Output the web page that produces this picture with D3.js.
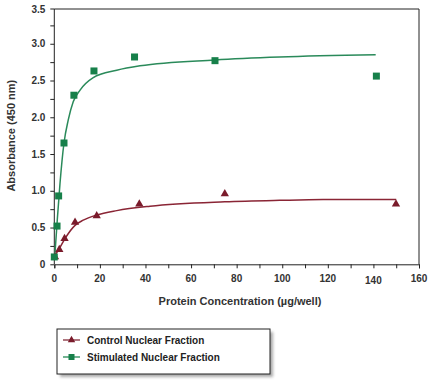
<!DOCTYPE html>
<html>
<head>
<meta charset="utf-8">
<script src="https://cdn.jsdelivr.net/npm/d3@7"></script>
<style>
  body { margin: 0; background: #fff; }
  svg { display: block; font-family: "Liberation Sans", Arial, sans-serif; font-weight: bold; }
</style>
</head>
<body>
<div class="container"></div>
<script>
// measured points
const controlX = [0.3, 2.2, 4.5, 9.1, 18.6, 37.3, 74.8, 149.9];
const controlY = [0.10, 0.20, 0.35, 0.57, 0.66, 0.82, 0.96, 0.82];
const stimX = [0, 1.2, 1.9, 4.25, 8.6, 17.4, 35.2, 70.5, 141.3];
const stimY = [0.10, 0.52, 0.93, 1.65, 2.30, 2.63, 2.82, 2.77, 2.56];

// fitted curves
const controlFitX = [0.3, 2.5, 4.7, 9.1, 12.7, 18.6, 27.4, 42, 74.8, 98.9, 117.9, 150];
const controlFitY = [0.12, 0.23, 0.35, 0.53, 0.60, 0.67, 0.73, 0.79, 0.85, 0.87, 0.88, 0.88];
const stimFitX = [0.3, 1.3, 2.5, 4.25, 6.1, 8.3, 11.3, 17.1, 27.4, 37.6, 70.4, 98.9, 141];
const stimFitY = [0.15, 0.60, 1.10, 1.65, 1.96, 2.21, 2.37, 2.54, 2.64, 2.70, 2.78, 2.82, 2.85];

const seriesNames = ["Control Nuclear Fraction", "Stimulated Nuclear Fraction"];
const xTicks = d3.range(0, 161, 20);
const yTicks = d3.range(0, 3.51, 0.5);

const red = "#7a1b2b";
const green = "#17804a";

d3.select(".container").call(chart);

function chart(container) {
  const width = 434;
  const height = 382;
  const margin = { left: 54.3, right: 15, top: 9, bottom: 118 };

  const x = d3.scaleLinear().domain([0, 160]).range([margin.left, width - margin.right]);
  const y = d3.scaleLinear().domain([0, 3.5]).range([264.3, 7]);

  const svg = container.append("svg").attr("width", width).attr("height", height);

  //frame
  svg.append("path")
    .attr("d", `M${x(0)},${margin.top}H${x(160)}V${y(0)}`)
    .attr("fill", "none")
    .attr("stroke", "#222")
    .attr("stroke-width", 1);

  //axes
  const xAxis = svg.append("g")
    .attr("transform", `translate(0,${y(0)})`)
    .call(d3.axisBottom(x).tickValues(d3.range(0, 161, 10)).tickSize(4).tickFormat(""));
  xAxis.select(".domain").attr("stroke", "#222");
  xAxis.selectAll("line").attr("stroke", "#222");

  svg.append("g").selectAll("text")
    .data(xTicks)
    .join("text")
    .attr("x", (d) => x(d))
    .attr("y", (d) => y(0) + 18 + (d === 140 ? 2 : 0))
    .attr("text-anchor", "middle")
    .attr("font-size", 10)
    .attr("fill", "#333")
    .text((d) => d);

  const yAxis = svg.append("g")
    .attr("transform", `translate(${x(0)},0)`)
    .call(d3.axisLeft(y).tickValues(d3.range(0, 3.3, 0.25)).tickSize(4).tickFormat(""));
  yAxis.select(".domain").remove();
  yAxis.selectAll("line").attr("stroke", "#222");
  svg.append("line")
    .attr("x1", x(0)).attr("x2", x(0))
    .attr("y1", margin.top).attr("y2", y(0))
    .attr("stroke", "#222");
  svg.append("line")
    .attr("x1", x(0) - 4).attr("x2", x(0))
    .attr("y1", margin.top).attr("y2", margin.top)
    .attr("stroke", "#222");

  svg.append("g").selectAll("text")
    .data(yTicks)
    .join("text")
    .attr("x", x(0) - 9)
    .attr("y", (d) => (d === 3.5 ? margin.top : y(d)))
    .attr("dy", "0.35em")
    .attr("text-anchor", "end")
    .attr("font-size", 10)
    .attr("fill", "#333")
    .text((d) => (d === 0 ? "0" : d.toFixed(1)));

  //titles
  svg.append("text")
    .attr("transform", `translate(15,${y(1.75)}) rotate(-90)`)
    .attr("text-anchor", "middle")
    .attr("font-size", 11)
    .attr("fill", "#333")
    .text("Absorbance (450 nm)");
  svg.append("text")
    .attr("x", 240)
    .attr("y", 305)
    .attr("text-anchor", "middle")
    .attr("font-size", 11)
    .attr("fill", "#333")
    .text("Protein Concentration (µg/well)");

  //curves
  const line = d3.line().x((d) => x(d[0])).y((d) => y(d[1])).curve(d3.curveMonotoneX);
  svg.append("path")
    .attr("d", line(d3.zip(stimFitX, stimFitY)))
    .attr("fill", "none").attr("stroke", "#2a8a5a").attr("stroke-width", 1.5);
  svg.append("path")
    .attr("d", line(d3.zip(controlFitX, controlFitY)))
    .attr("fill", "none").attr("stroke", "#8a2535").attr("stroke-width", 1.5);

  //markers
  const tri = d3.symbol().type(d3.symbolTriangle).size(30);
  svg.append("g").selectAll("path")
    .data(d3.zip(controlX, controlY))
    .join("path")
    .attr("transform", (d) => `translate(${x(d[0])},${y(d[1])})`)
    .attr("d", tri)
    .attr("fill", red);

  svg.append("g").selectAll("rect")
    .data(d3.zip(stimX, stimY))
    .join("rect")
    .attr("x", (d) => x(d[0]) - 3.5)
    .attr("y", (d) => y(d[1]) - 3.5)
    .attr("width", 7)
    .attr("height", 7)
    .attr("fill", green);

  //legend
  const defs = svg.append("defs");
  defs.append("filter").attr("id", "blur")
    .append("feGaussianBlur").attr("stdDeviation", 1.5);
  const lg = svg.append("g").attr("transform", "translate(57,329)");
  lg.append("rect")
    .attr("x", 3).attr("y", 3).attr("width", 213).attr("height", 45)
    .attr("fill", "#aaa").attr("filter", "url(#blur)");
  lg.append("rect")
    .attr("width", 213).attr("height", 45)
    .attr("fill", "#fff").attr("stroke", "#222").attr("stroke-width", 1);

  const items = lg.selectAll("g.item")
    .data(seriesNames)
    .join("g")
    .attr("class", "item")
    .attr("transform", (d, i) => `translate(0,${11 + i * 17})`);
  items.append("line")
    .attr("x1", 6).attr("x2", 23)
    .attr("stroke", (d, i) => (i ? green : red)).attr("stroke-width", 1.2);
  items.each(function (d, i) {
    const g = d3.select(this);
    if (i) {
      g.append("rect").attr("x", 11.5).attr("y", -3).attr("width", 6).attr("height", 6).attr("fill", green);
    } else {
      g.append("path").attr("transform", "translate(14.5,0)").attr("d", d3.symbol().type(d3.symbolTriangle).size(24)).attr("fill", red);
    }
  });
  items.append("text")
    .attr("x", 30)
    .attr("dy", "0.35em")
    .attr("font-size", 10)
    .attr("fill", "#222")
    .text((d) => d);
}
</script>
</body>
</html>
